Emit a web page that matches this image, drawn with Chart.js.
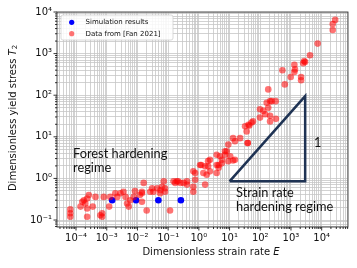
<!DOCTYPE html>
<html><head><meta charset="utf-8">
<script src="https://cdn.jsdelivr.net/npm/chart.js@4.4.0/dist/chart.umd.min.js"></script>
<style>html,body{margin:0;padding:0;background:#fff}#wrap{width:357px;height:268px;position:relative}</style>
</head><body><div id="wrap"><canvas id="c" width="357" height="268"></canvas></div>
<script>
// ---- data ----
const xTickValues = [1e-4, 1e-3, 1e-2, 1e-1, 1, 10, 100, 1000, 10000];
const xTickLabels = ['10⁻⁴', '10⁻³', '10⁻²', '10⁻¹', '10⁰', '10¹', '10²', '10³', '10⁴'];
const yTickValues = [0.1, 1, 10, 100, 1000, 10000];
const yTickLabels = ['10⁻¹', '10⁰', '10¹', '10²', '10³', '10⁴'];
const xRange = [2.4e-5, 7.2e4];
const yRange = [0.068, 10000];

const simLabel = 'Simulation results';
const simX = [0.0015, 0.009, 0.048, 0.26];
const simY = [0.30, 0.30, 0.30, 0.30];

const fanLabel = 'Data from [Fan 2021]';
const fanX = [6.5e-5, 6.5e-5, 6.5e-5, 1.4e-4, 1.6e-4, 1.8e-4, 2.3e-4, 2.6e-4, 2.0e-4, 2.3e-4, 2.3e-4,
  3.5e-4, 4.3e-4, 6.2e-4, 7.1e-4, 7.1e-4, 8.0e-4,
  1.2e-3, 1.3e-3, 1.9e-3, 2.2e-3, 2.8e-3, 3.5e-3, 4.1e-3, 5.2e-3, 4.6e-3, 7.6e-3,
  1.2e-2, 1.4e-2, 1.6e-2, 2.0e-2, 2.6e-2, 3.0e-2, 4.4e-2, 5.6e-2, 6.3e-2, 7.2e-2,
  8.3e-3, 5.8e-3, 1.4e-2, 3.3e-2, 5.5e-2, 7.9e-2, 1.4e-2, 0.115, 7.9e-2,
  0.15, 0.17, 0.19, 0.21, 0.25, 0.32, 0.41, 0.41,
  0.66, 0.76, 0.66, 0.66,
  1.1, 1.4, 1.6, 1.8, 1.6,
  2.3, 2.0, 2.3,
  3.8, 4.4, 4.4, 3.8,
  4.9, 5.6, 7.1, 8.1, 9.1, 10.5, 9.1,
  15, 15, 13, 22,
  39, 39,
  32, 36, 44, 52, 58,
  98, 98, 126, 145, 162, 182, 209, 234, 316, 209, 209, 324,
  182, 630, 980, 525, 1290, 1350, 1290, 2140, 2140, 2510, 2690, 2880, 4170, 7400, 22900, 22900, 27500,
  5.6, 13, 3.8, 1.2, 2.0, 0.76, 41, 7.1];
const fanY = [0.18, 0.145, 0.12, 0.21, 0.275, 0.30, 0.33, 0.40, 0.25, 0.19, 0.12,
  0.21, 0.36, 0.13, 0.12, 0.145, 0.36,
  0.21, 0.36, 0.44, 0.36, 0.44, 0.48, 0.36, 0.21, 0.25, 0.36,
  0.40, 0.48, 0.78, 0.17, 0.48, 0.58, 0.58, 0.52, 0.63, 0.85,
  0.50, 0.30, 0.44, 0.48, 0.44, 0.48, 0.275, 0.17, 0.58,
  0.85, 0.78, 0.85, 0.85, 0.78, 0.78, 0.85, 0.71,
  1.48, 0.93, 0.63, 0.48,
  2.1, 1.35, 1.95, 1.23, 0.71,
  2.8, 1.95, 1.48,
  3.7, 2.1, 1.8, 1.35,
  3.4, 2.3, 3.7, 4.5, 6.5, 3.4, 2.6,
  2.8, 7.8, 9.3, 9.3,
  7.1, 7.1,
  18, 13.5, 18.6, 22, 23.5,
  46, 29, 42, 35, 66, 50, 72, 72, 72, 32, 23.5, 27,
  138, 182, 275, 398, 537, 417, 363, 275, 229, 589, 661, 630, 912, 1740, 3700, 5130, 6460,
  2.8, 2.7, 2.1, 2.1, 2.6, 1.35, 19.5, 4.5];

const triangleX = [10, 2900, 2900, 10];
const triangleY = [0.85, 95, 0.85, 0.85];

const annotForest = ['Forest hardening', 'regime'];
const annotStrain = ['Strain rate', 'hardening regime'];
const annotSlope = '1';
const xTitle = ['Dimensionless strain rate ', 'E'];
const yTitle = ['Dimensionless yield stress ', 'T', '2'];

// ---- helpers ----
const pts = (xs, ys) => xs.map((v, i) => ({x: v, y: ys[i]}));
const isDecade = v => Math.abs(Math.log10(v) - Math.round(Math.log10(v))) < 1e-9;
function logTicks(min, max) {
  const out = [];
  for (let e = Math.floor(Math.log10(min)); e <= Math.ceil(Math.log10(max)); e++) {
    for (let k = 1; k <= 9; k++) {
      const v = k * Math.pow(10, e);
      if (v >= min * 0.9999 && v <= max * 1.0001) out.push({value: v});
    }
  }
  return out;
}
function labelFor(v, vals, labs) {
  if (!isDecade(v)) return '';
  const i = vals.findIndex(t => Math.abs(Math.log10(t) - Math.log10(v)) < 1e-6);
  return i >= 0 ? labs[i] : '';
}

const SIM_COLOR = '#0000ff';
const FAN_COLOR = 'rgba(255,0,0,0.55)';
const TRI_COLOR = '#1f3354';
const GRID = '#c6c6c6';
const TICKFONT = {family: 'DejaVu Sans', size: 10};

const deco = {
  id: 'deco',
  afterDatasetsDraw(chart) {
    const {ctx, chartArea: a, scales: {x, y}} = chart;
    ctx.save();
    // annotations
    ctx.fillStyle = '#111';
    ctx.font = '12.8px Lato';
    ctx.textBaseline = 'alphabetic';
    ctx.textAlign = 'left';
    ctx.fillText(annotForest[0], 73, 157.5);
    ctx.fillText(annotForest[1], 73, 172);
    ctx.fillText(annotStrain[0], 236, 196.5);
    ctx.fillText(annotStrain[1], 236, 211);
    ctx.fillText(annotSlope, 314, 147);
    // frame
    ctx.strokeStyle = '#222';
    ctx.lineWidth = 0.8;
    ctx.strokeRect(a.left, a.top, a.right - a.left, a.bottom - a.top);
    // tick marks
    ctx.strokeStyle = '#000';
    ctx.lineWidth = 0.8;
    ctx.beginPath();
    x.ticks.forEach(t => {
      const p = x.getPixelForValue(t.value);
      const len = isDecade(t.value) ? 3.5 : 2;
      ctx.moveTo(p, a.bottom); ctx.lineTo(p, a.bottom + len);
    });
    y.ticks.forEach(t => {
      const p = y.getPixelForValue(t.value);
      const len = isDecade(t.value) ? 3.5 : 2;
      ctx.moveTo(a.left, p); ctx.lineTo(a.left - len, p);
    });
    ctx.stroke();
    ctx.restore();
  },
  afterDraw(chart) {
    const {ctx} = chart;
    ctx.save();
    // legend box
    const bx = 61, by = 15, bw = 112, bh = 25, r = 2;
    ctx.fillStyle = 'rgba(255,255,255,0.85)';
    ctx.strokeStyle = '#d0d0d0';
    ctx.lineWidth = 0.8;
    ctx.beginPath();
    ctx.moveTo(bx + r, by); ctx.lineTo(bx + bw - r, by); ctx.arcTo(bx + bw, by, bx + bw, by + r, r);
    ctx.lineTo(bx + bw, by + bh - r); ctx.arcTo(bx + bw, by + bh, bx + bw - r, by + bh, r);
    ctx.lineTo(bx + r, by + bh); ctx.arcTo(bx, by + bh, bx, by + bh - r, r);
    ctx.lineTo(bx, by + r); ctx.arcTo(bx, by, bx + r, by, r);
    ctx.closePath(); ctx.fill(); ctx.stroke();
    const items = [[simLabel, SIM_COLOR, 22.3], [fanLabel, FAN_COLOR, 33.7]];
    ctx.font = '7px "DejaVu Sans"';
    ctx.textBaseline = 'middle';
    items.forEach(([lab, col, yy]) => {
      ctx.fillStyle = col;
      ctx.beginPath(); ctx.arc(71.7, yy, 2.6, 0, Math.PI * 2); ctx.fill();
      ctx.fillStyle = '#111';
      ctx.fillText(lab, 85.5, yy + 0.3);
    });
    // x axis title
    ctx.fillStyle = '#111';
    ctx.textBaseline = 'middle';
    const fN = '10px "DejaVu Sans"', fI = 'italic 10px "DejaVu Sans"', fS = '7px "DejaVu Sans"';
    ctx.font = fN; const w1 = ctx.measureText(xTitle[0]).width;
    ctx.font = fI; const w2 = ctx.measureText(xTitle[1]).width;
    let sx = 211 - (w1 + w2) / 2;
    ctx.font = fN; ctx.fillText(xTitle[0], sx, 252.5);
    ctx.font = fI; ctx.fillText(xTitle[1], sx + w1, 252.5);
    // y axis title
    ctx.translate(13, 118);
    ctx.rotate(-Math.PI / 2);
    ctx.font = fN; const v1 = ctx.measureText(yTitle[0]).width;
    ctx.font = fI; const v2 = ctx.measureText(yTitle[1]).width;
    ctx.font = fS; const v3 = ctx.measureText(yTitle[2]).width;
    let sy = -(v1 + v2 + v3) / 2;
    ctx.font = fN; ctx.fillText(yTitle[0], sy, 0);
    ctx.font = fI; ctx.fillText(yTitle[1], sy + v1, 0);
    ctx.font = fS; ctx.fillText(yTitle[2], sy + v1 + v2, 2.5);
    ctx.restore();
  }
};

new Chart(document.getElementById('c'), {
  type: 'scatter',
  data: {
    datasets: [
      {label: 'triangle', data: pts(triangleX, triangleY), showLine: true, borderColor: TRI_COLOR,
        borderWidth: 2.5, pointRadius: 0, fill: false, order: 0, borderJoinStyle: 'miter'},
      {label: fanLabel, data: pts(fanX, fanY), backgroundColor: FAN_COLOR, borderWidth: 0,
        pointRadius: 3.3, order: 1},
      {label: simLabel, data: pts(simX, simY), backgroundColor: SIM_COLOR, borderWidth: 0,
        pointRadius: 3.3, order: 2}
    ]
  },
  options: {
    responsive: false,
    animation: false,
    devicePixelRatio: 1,
    layout: {padding: {left: 0, right: 9, top: 12, bottom: 0}},
    plugins: {legend: {display: false}, tooltip: {enabled: false}},
    scales: {
      x: {
        type: 'logarithmic', min: xRange[0], max: xRange[1],
        afterBuildTicks: s => { s.ticks = logTicks(xRange[0], xRange[1]); },
        afterFit: s => { s.height = 41; },
        grid: {color: GRID, lineWidth: 0.8, drawTicks: false},
        border: {display: false},
        ticks: {autoSkip: false, maxRotation: 0, minRotation: 0, padding: 5, color: '#111', font: TICKFONT,
          callback: v => labelFor(v, xTickValues, xTickLabels)}
      },
      y: {
        type: 'logarithmic', min: yRange[0], max: yRange[1],
        afterBuildTicks: s => { s.ticks = logTicks(yRange[0], yRange[1]); },
        afterFit: s => { s.width = 57; },
        grid: {color: GRID, lineWidth: 0.8, drawTicks: false},
        border: {display: false},
        ticks: {autoSkip: false, padding: 5, color: '#111', font: TICKFONT,
          callback: v => labelFor(v, yTickValues, yTickLabels)}
      }
    }
  },
  plugins: [deco]
});
</script></body></html>
